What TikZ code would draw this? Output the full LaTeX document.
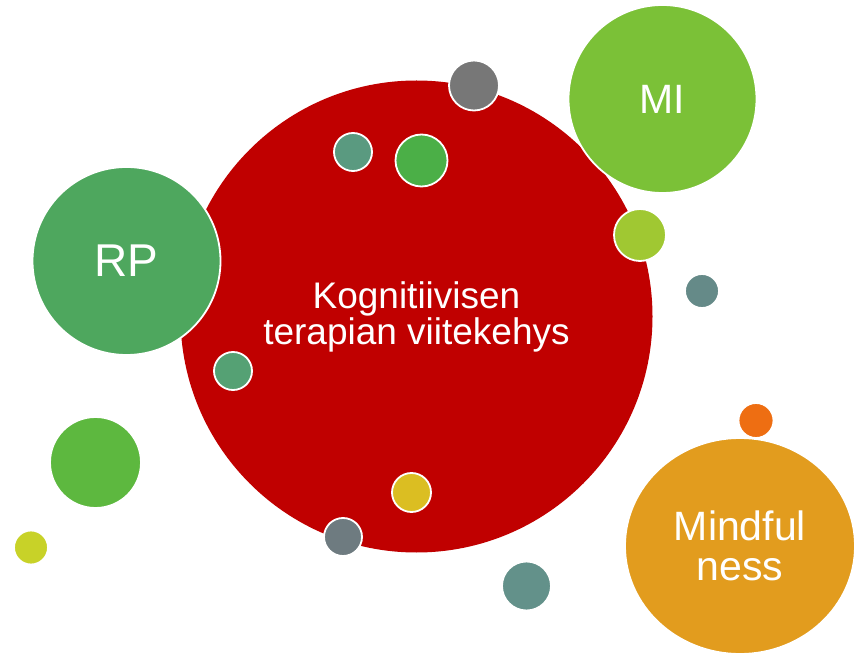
\documentclass[tikz,border=0pt]{standalone}
\usepackage{fontspec}
\setmainfont{Liberation Sans}
\usetikzlibrary{shapes.geometric}
\definecolor{cred}{HTML}{C00000}
\definecolor{cmi}{HTML}{7BC137}
\definecolor{crp}{HTML}{4EA75E}
\definecolor{cmind}{HTML}{E29C1E}
\definecolor{cgraytop}{HTML}{777777}
\definecolor{cteal}{HTML}{5A9A80}
\definecolor{cgreen}{HTML}{4BAF47}
\definecolor{clgreen}{HTML}{A0C832}
\definecolor{ctealgray}{HTML}{658A88}
\definecolor{cteal2}{HTML}{55A174}
\definecolor{cbgreen}{HTML}{5DB83F}
\definecolor{cygreen}{HTML}{C8D228}
\definecolor{corange}{HTML}{EE6E12}
\definecolor{cyellow}{HTML}{DBBE22}
\definecolor{cgray}{HTML}{6E7B80}
\definecolor{ctealb}{HTML}{63918A}
\begin{document}
\begin{tikzpicture}[x=1pt,y=-1pt,
  bub/.style 2 args={circle, fill=#1, draw=white, line width=1.8pt, minimum size=#2, inner sep=0pt, text=white, align=center},
  bigtext/.style={font=\fontsize{41}{40}\selectfont}]
\useasboundingbox (0,0) rectangle (855,655);
\node[circle, fill=cred, minimum size=472pt, inner sep=0pt, text=white, align=center,
      font=\fontsize{37}{36}\selectfont] (kog) at (416.5,316.5) {Kognitiivisen\\terapian viitekehys};
\node[bub={cmi}{188pt}, bigtext] (mi) at (662.5,99) {MI};
\node[bub={crp}{188pt}, font=\fontsize{46}{46}\selectfont] (rp) at (126.5,261) {RP};
\node[ellipse, fill=cmind, draw=white, line width=1.8pt, minimum width=230pt, minimum height=216pt, inner sep=0pt,
      text=white, align=center, bigtext] (mind) at (740,546) {Mindful\\ness};
\node[bub={cgraytop}{50pt}] (b1) at (474,85.5) {};
\node[bub={cteal}{38pt}] (b2) at (353,152) {};
\node[bub={cgreen}{52pt}] (b3) at (421.5,160.5) {};
\node[bub={clgreen}{52pt}] (b4) at (640,235) {};
\node[bub={ctealgray}{34pt}] (b5) at (702,291) {};
\node[bub={cteal2}{38pt}] (b6) at (233,371) {};
\node[bub={cbgreen}{91pt}] (b7) at (95.5,462.5) {};
\node[bub={cygreen}{34pt}] (b8) at (31,547.5) {};
\node[bub={corange}{35pt}] (b9) at (756,420.5) {};
\node[bub={cyellow}{39pt}] (b10) at (411.5,492.5) {};
\node[bub={cgray}{38pt}] (b11) at (343,537) {};
\node[bub={ctealb}{49pt}] (b12) at (526.5,586) {};
\end{tikzpicture}
\end{document}
